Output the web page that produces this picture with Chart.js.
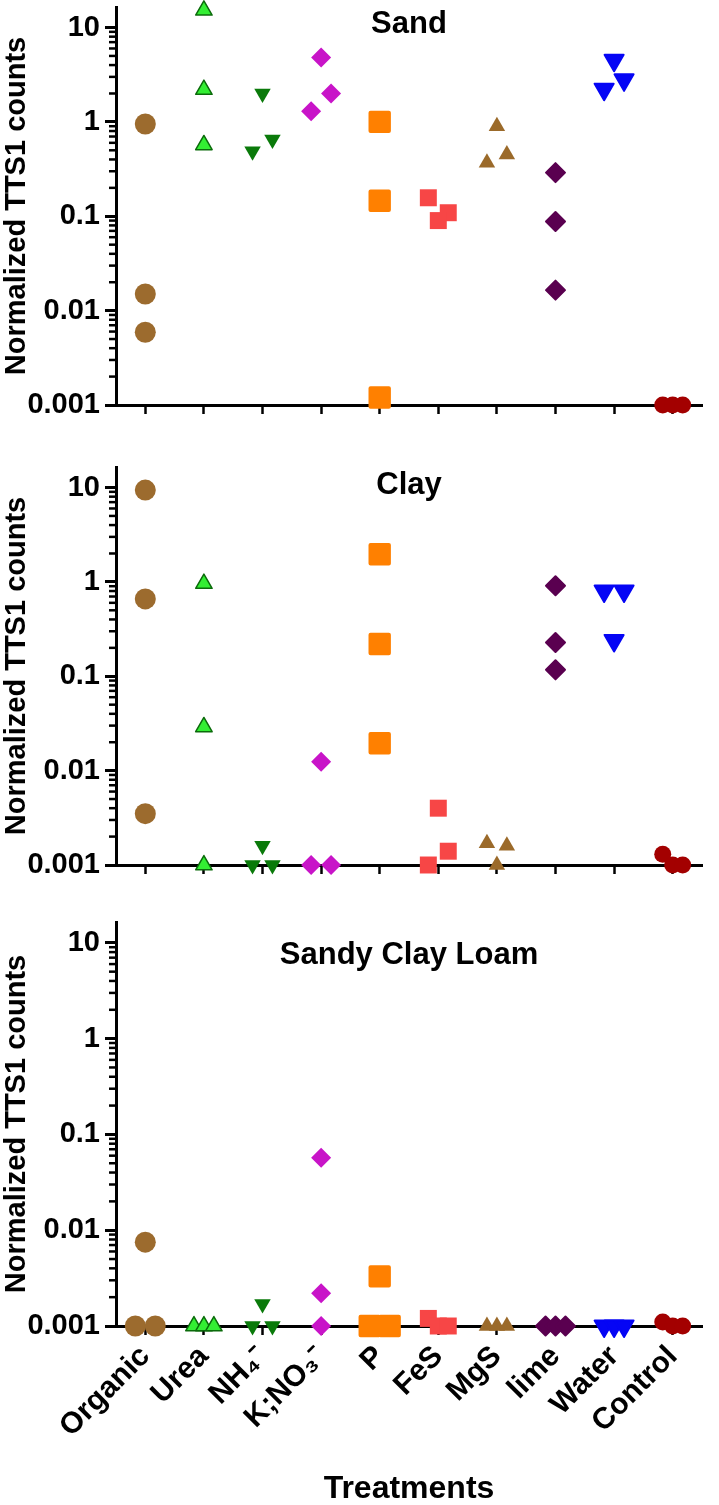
<!DOCTYPE html>
<html lang="en">
<head>
<meta charset="UTF-8">
<title>Normalized TTS1 counts by treatment</title>
<script src="https://cdn.jsdelivr.net/npm/chart.js"></script>
<style>
    * { margin: 0; padding: 0; box-sizing: border-box; }
    body { width: 719px; height: 1505px; background: #fff; position: relative; overflow: hidden; }
    canvas { position: absolute; left: 0; }
    #sand { top: -10px; }
    #clay { top: 450px; }
    #scl { top: 905px; }
</style>
</head>
<body>
<canvas id="sand" width="719" height="450"></canvas>
<canvas id="clay" width="719" height="450"></canvas>
<canvas id="scl" width="719" height="600"></canvas>

<script>
// categories and tick labels
const categories = ['Organic', 'Urea', 'NH\u2084\u207B', 'K;NO\u2083\u207B', 'P', 'FeS', 'MgS', 'lime', 'Water', 'Control'];
const yTicks = [0.001, 0.01, 0.1, 1, 10];
const yMin = 0.001;
const yMax = 16.5;
const panelTitles = ['Sand', 'Clay', 'Sandy Clay Loam'];

// replicate values for each treatment (in replicate order)
const sandValues = [
    [0.95, 0.015, 0.0059],
    [15.2, 2.2, 0.57],
    [2.0, 0.49, 0.65],
    [4.8, 1.3, 2.0],
    [1.0, 0.146, 0.0012],
    [0.157, 0.109, 0.090],
    [0.9, 0.37, 0.45],
    [0.29, 0.088, 0.0165],
    [4.5, 2.22, 2.79],
    [0.001, 0.001, 0.001]
];
const clayValues = [
    [9.4, 0.66, 0.0035],
    [0.96, 0.029, 0.001],
    [0.0016, 0.001, 0.001],
    [0.0124, 0.001, 0.001],
    [1.96, 0.22, 0.0195],
    [0.004, 0.001, 0.0014],
    [0.0017, 0.0016, 0.001],
    [0.91, 0.228, 0.117],
    [0.8, 0.8, 0.24],
    [0.0013, 0.001, 0.001]
];
const sclValues = [
    [0.0075, 0.001, 0.001],
    [0.001, 0.001, 0.001],
    [0.0017, 0.001, 0.001],
    [0.057, 0.0022, 0.001],
    [0.0033, 0.001, 0.001],
    [0.0012, 0.001, 0.001],
    [0.001, 0.001, 0.001],
    [0.001, 0.001, 0.001],
    [0.001, 0.001, 0.001],
    [0.0011, 0.001, 0.001]
];

// marker look per treatment
const markerStyles = [
    { style: 'circle',   r: 10.5, fill: '#9c6b2e', line: '#9c6b2e', bw: 0 },
    { style: 'triangle', r: 9.5,  fill: '#33ee33', line: '#0b6b0b', bw: 1.5 },
    { style: 'triangle', r: 9.5,  fill: '#0a7a0a', line: '#0a7a0a', bw: 0, rot: 180 },
    { style: 'rectRot',  r: 10,   fill: '#c814c8', line: '#c814c8', bw: 0 },
    { style: 'rect',     r: 13,   fill: '#ff8000', line: '#ff8000', bw: 4 },
    { style: 'rect',     r: 12,   fill: '#f74646', line: '#f74646', bw: 0 },
    { style: 'triangle', r: 9.5,  fill: '#9b6a2a', line: '#9b6a2a', bw: 0 },
    { style: 'rectRot',  r: 9.5,  fill: '#5a0050', line: '#5a0050', bw: 2 },
    { style: 'triangle', r: 11,   fill: '#0505f5', line: '#0505f5', bw: 2, rot: 180 },
    { style: 'circle',   r: 8.5,  fill: '#a30000', line: '#a30000', bw: 0 }
];

const FONT = '"Liberation Sans", Arial, sans-serif';

// Prism-like horizontal spreading: points close in y share a row and get spread sideways
function spread(values) {
    const half = 0.17;
    const order = values.map((v, i) => i).sort((a, b) => values[b] - values[a]);
    const offsets = values.map(() => 0);
    let k = 0;
    while (k < order.length) {
        const row = [order[k]];
        const top = Math.log10(values[order[k]]);
        let j = k + 1;
        while (j < order.length && top - Math.log10(values[order[j]]) < 0.195) {
            row.push(order[j]);
            j++;
        }
        row.sort((a, b) => a - b);
        row.forEach((idx, n) => {
            offsets[idx] = row.length > 1 ? -half + 2 * half * n / (row.length - 1) : 0;
        });
        k = j;
    }
    return offsets;
}

const minorTicks = {
    id: 'minorTicks',
    afterDraw(chart) {
        const ys = chart.scales.y;
        const ctx = chart.ctx;
        const x0 = chart.chartArea.left;
        ctx.save();
        ctx.strokeStyle = '#000';
        ctx.lineWidth = 2.5;
        for (let d = -3; d <= 1; d++) {
            for (let m = 2; m <= 9; m++) {
                const v = m * Math.pow(10, d);
                if (v > yMax) continue;
                const py = ys.getPixelForValue(v);
                ctx.beginPath();
                ctx.moveTo(x0 - 7, py);
                ctx.lineTo(x0, py);
                ctx.stroke();
            }
        }
        ctx.restore();
    }
};

const panelTitle = {
    id: 'panelTitle',
    beforeDatasetsDraw(chart) {
        chart.ctx.lineJoin = 'round';
    },
    afterDatasetsDraw(chart, args, opts) {
        const { ctx, chartArea } = chart;
        ctx.lineJoin = 'miter';
        ctx.save();
        ctx.font = 'bold 31px ' + FONT;
        ctx.fillStyle = '#000';
        ctx.textAlign = 'center';
        ctx.textBaseline = 'middle';
        ctx.fillText(opts.text, (chartArea.left + chartArea.right) / 2, chartArea.top + opts.offset);
        ctx.restore();
    }
};

function makePanel(id, values, title, titleOffset, padTop, xHeight, showLabels) {
    const datasets = values.map((vals, i) => {
        const s = markerStyles[i];
        const offs = spread(vals);
        return {
            label: categories[i],
            data: vals.map((v, j) => ({ x: i + offs[j], y: v })),
            pointStyle: s.style,
            pointRadius: s.r,
            pointBackgroundColor: s.fill,
            pointBorderColor: s.line,
            pointBorderWidth: s.bw,
            pointRotation: s.rot || 0,
            showLine: false,
            clip: false
        };
    });

    return new Chart(document.getElementById(id), {
        type: 'scatter',
        data: { datasets },
        plugins: [minorTicks, panelTitle],
        options: {
            responsive: false,
            animation: false,
            layout: { padding: { top: padTop, right: 3, left: 0, bottom: 0 } },
            plugins: {
                legend: { display: false },
                tooltip: { enabled: false },
                panelTitle: { text: title, offset: titleOffset }
            },
            scales: {
                x: {
                    type: 'linear',
                    min: -0.5,
                    max: 9.5,
                    afterBuildTicks: s => { s.ticks = categories.map((c, i) => ({ value: i })); },
                    afterFit: s => { s.height = xHeight; s.paddingLeft = 0; s.paddingRight = 0; },
                    grid: { drawOnChartArea: false, drawTicks: true, tickLength: 9, tickWidth: 2.5, tickColor: '#000' },
                    border: { display: true, color: '#000', width: 3 },
                    ticks: {
                        display: showLabels,
                        autoSkip: false,
                        minRotation: 45,
                        maxRotation: 45,
                        padding: 4,
                        color: '#000',
                        font: { family: FONT, size: 30, weight: 'bold' },
                        callback: v => categories[v]
                    },
                    title: {
                        display: showLabels,
                        text: 'Treatments',
                        color: '#000',
                        font: { family: FONT, size: 32, weight: 'bold', lineHeight: 1.0 },
                        padding: { top: 0, bottom: 0 }
                    }
                },
                y: {
                    type: 'logarithmic',
                    min: yMin,
                    max: yMax,
                    afterBuildTicks: s => { s.ticks = yTicks.map(v => ({ value: v })); },
                    afterFit: s => { s.width = 116; s.paddingTop = 0; s.paddingBottom = 0; },
                    grid: { drawOnChartArea: false, drawTicks: true, tickLength: 11, tickWidth: 3, tickColor: '#000' },
                    border: { display: true, color: '#000', width: 3 },
                    ticks: {
                        padding: 5,
                        color: '#000',
                        font: { family: FONT, size: 29, weight: 'bold' },
                        callback: v => String(v)
                    },
                    title: {
                        display: true,
                        text: 'Normalized TTS1 counts',
                        color: '#000',
                        font: { family: FONT, size: 29, weight: 'bold' },
                        padding: { top: 0, bottom: 0 }
                    }
                }
            }
        }
    });
}

makePanel('sand', sandValues, panelTitles[0], 17, 5, 35, false);
makePanel('clay', clayValues, panelTitles[1], 18, 8, 35, false);
makePanel('scl', sclValues, panelTitles[2], 33, 10, 179, true);
</script>
</body>
</html>
